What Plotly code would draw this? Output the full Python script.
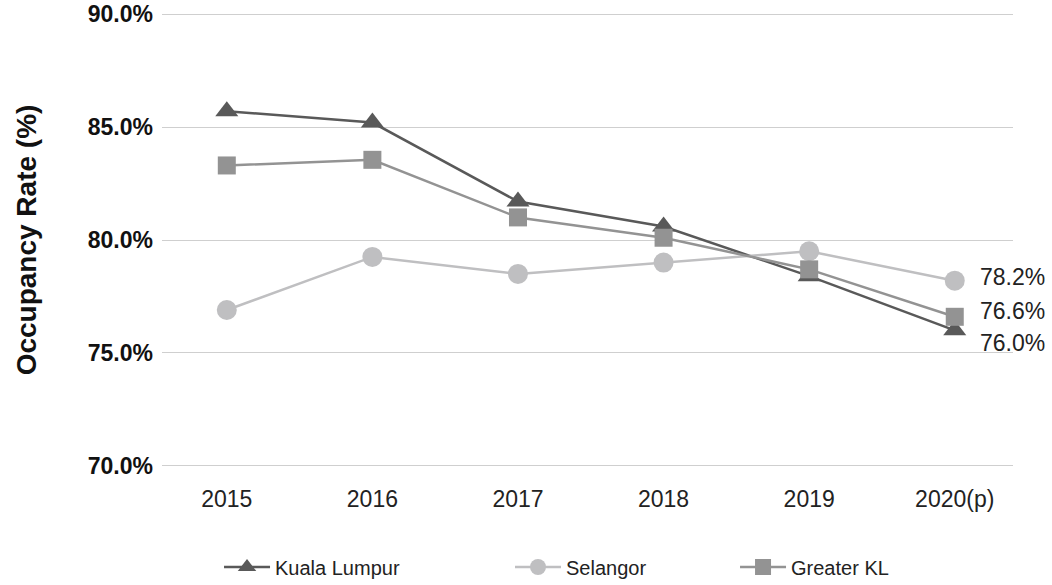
import plotly.graph_objects as go

years = ["2015", "2016", "2017", "2018", "2019", "2020(p)"]
kuala_lumpur = [85.7, 85.2, 81.7, 80.6, 78.4, 76.0]
selangor = [76.9, 79.25, 78.5, 79.0, 79.5, 78.2]
greater_kl = [83.3, 83.55, 81.0, 80.1, 78.7, 76.6]
y_ticks = [70, 75, 80, 85, 90]
y_tick_text = [f"{v:.1f}%" for v in y_ticks]

W, H = 1052, 585

series = [
    ("Kuala Lumpur", kuala_lumpur, "#595959", "triangle-up", 20, "legend", 0.2082, -13),
    ("Selangor", selangor, "#bfbfc1", "circle", 20, "legend2", 0.4848, 4),
    ("Greater KL", greater_kl, "#939393", "square", 18, "legend3", 0.6987, 6),
]

FONT = "Liberation Sans, Arial, Helvetica, sans-serif"

fig = go.Figure()
annotations = []
legends = {}
for name, vals, color, sym, size, leg, lx, yshift in series:
    fig.add_trace(go.Scatter(
        x=years, y=vals, name=name, mode="lines+markers",
        line=dict(color=color, width=2.5),
        marker=dict(symbol=sym, size=size, color=color),
        legend=leg, cliponaxis=False,
    ))
    annotations.append(dict(
        x=years[-1], y=vals[-1], xref="x", yref="y",
        text=f"{vals[-1]:.1f}%", showarrow=False,
        xanchor="left", yanchor="middle", xshift=23, yshift=yshift,
        font=dict(family=FONT, size=23, color="#222222"),
    ))
    legends[leg] = dict(
        x=lx, y=1 - 567 / H, xref="container", yref="container",
        xanchor="left", yanchor="middle",
        orientation="h", bgcolor="rgba(0,0,0,0)", itemwidth=46,
        font=dict(family=FONT, size=20, color="#222222"),
    )

fig.update_layout(
    width=W, height=H,
    margin=dict(l=162, r=39, t=13, b=118, autoexpand=False),
    plot_bgcolor="white", paper_bgcolor="white",
    font=dict(family=FONT, color="#222222"),
    annotations=annotations,
    showlegend=True,
    **legends,
)
fig.update_xaxes(
    type="category", range=[-0.445, 5.40], automargin=False,
    showgrid=False, showline=False, zeroline=False, ticks="",
    tickfont=dict(family=FONT, size=23, color="#222222"),
    ticklabelstandoff=16, ticklabeloverflow="allow",
)
fig.update_yaxes(
    range=[69.95, 90.05], tickvals=y_ticks, ticktext=y_tick_text,
    automargin=False, ticklabeloverflow="allow",
    showgrid=True, gridcolor="#cfcfcf", gridwidth=1,
    zeroline=False, showline=False, ticks="",
    tickfont=dict(family=FONT, size=23, color="#111111", weight="bold"),
    ticklabelstandoff=8,
    title=dict(text="<b>Occupancy Rate (%)</b>", standoff=42,
               font=dict(family=FONT, size=28, color="#111111")),
)

fig.write_html(
    "out.html",
    config={"displayModeBar": False},
    post_script="document.body.style.margin='0';",
)
